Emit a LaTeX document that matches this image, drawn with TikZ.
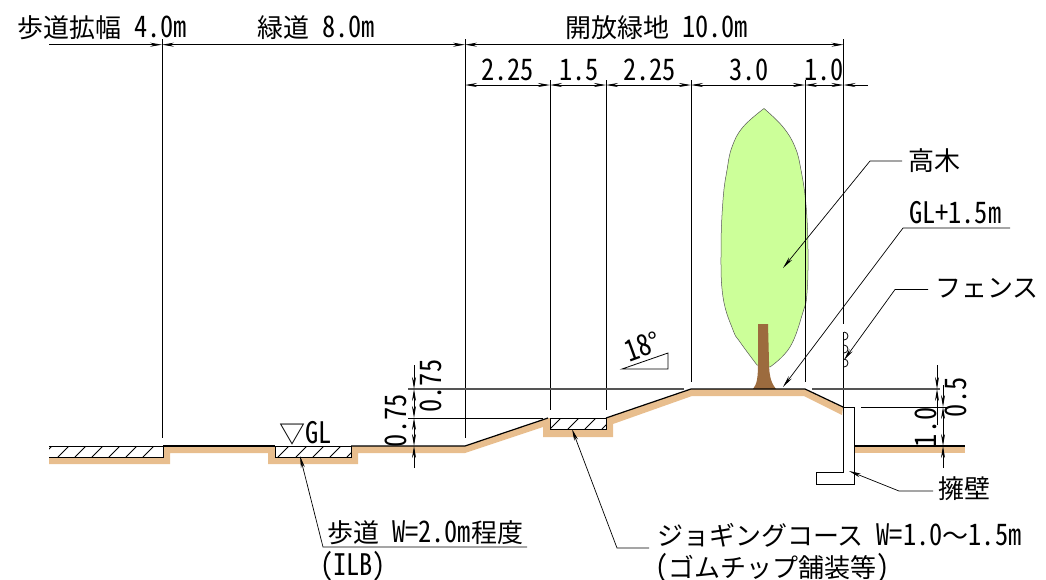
\documentclass[tikz,border=0pt]{standalone}
\usepackage{fontspec}
\usetikzlibrary{arrows.meta}
\newfontfamily\jpf{Noto Sans CJK JP}
\newfontfamily\hwf[RawFeature=+hwid,FakeStretch=0.89,Scale=1.14]{Noto Sans CJK JP}
\newcommand{\hs}[1]{{\hwf #1}}
\newcommand{\gapw}{\hspace{13pt}}
\definecolor{soil}{HTML}{E8BE8E}
\definecolor{leaf}{HTML}{CCFF99}
\definecolor{bark}{HTML}{9C6B3E}
\definecolor{dimgrey}{HTML}{555555}
\tikzset{
  lab/.style={inner sep=0pt,outer sep=0pt,font=\jpf\fontsize{26}{26}\selectfont,anchor=base west},
  vlab/.style={inner sep=0pt,outer sep=0pt,font=\hwf\fontsize{26}{26}\selectfont,anchor=base west,rotate=90},
  tick/.style={black,line width=.95pt},
  dimline/.style={black,line width=.8pt},
  both/.style={{Stealth[length=12pt,width=4pt]}-{Stealth[length=12pt,width=4pt]}},
  tipend/.style={-{Stealth[length=12pt,width=4pt]}},
  leader/.style={black,line width=.7pt},
  surf/.style={black,line width=1.2pt},
  levelline/.style={dimgrey,line width=1.1pt},
  wall/.style={black,line width=1pt},
  hatchline/.style={black,line width=.9pt},
}
\begin{document}
\begin{tikzpicture}[x=1pt,y=-1pt]
\useasboundingbox (0,0) rectangle (1046,579);
% soil
\fill[soil] (49,457)--(163,457)--(163,446)--(275,446)--(275,457)--(351,457)--(351,446)--(465,446)--(548,418)--(550,418)--(550,429)--(606,429)--(606,418)--(691,389)--(805,389)--(843,407)--(842,415)--(804,396)--(692,396)--(613,424)--(613,437)--(543,437)--(543,427)--(465,453)--(358,453)--(358,464)--(268,464)--(268,453)--(170,453)--(170,464)--(49,464)--cycle;
\fill[soil] (854,446) rectangle (965,453);
% tree
\draw[fill=leaf,draw=dimgrey,line width=.5pt] plot[smooth,tension=.7] coordinates {(764,108.5)(783,127)(795,147)(801,170)(806,205)(808,250)(807,293)(803,312)(790,347)(770,367)} -- plot[smooth,tension=.7] coordinates {(757,365)(740,342)(733,330)(723,297)(721,250)(723,200)(727,170)(732,147)(743,127)(764,108.5)} -- cycle;
\fill[bark] (758,324)--(768,324)--(769,362) .. controls (769,378) and (772,384) .. (776,389) -- (753,389) .. controls (757,384) and (758,378) .. (758,362) -- cycle;
% surface lines
\draw[surf] (163,446)--(275,446);
\draw[surf] (351,446)--(465,446)--(548,418);
\draw[surf] (606,418)--(691,389)--(805,389)--(843,407);
\draw[surf] (854,446)--(965,446);
% paved sections
\begin{scope}
\clip (49,446) rectangle (163,457);
\foreach \x in {41,58,75,92,109,126,143} \draw[hatchline] (\x,457)--(\x+11,446);
\end{scope}
\draw[wall] (49,446)--(163,446)--(163,457)--(49,457);
\begin{scope}
\clip (275,446) rectangle (351,457);
\foreach \x in {278,296,313,330,347} \draw[hatchline] (\x,457)--(\x+11,446);
\end{scope}
\draw[wall] (275,446) rectangle (351,457);
\begin{scope}
\clip (550,418) rectangle (606,429);
\foreach \x in {550,568,585,602} \draw[hatchline] (\x,429)--(\x+11,418);
\end{scope}
\draw[wall] (550,418) rectangle (606,429);
% retaining wall
\draw[wall] (843.5,407)--(854,407)--(854,484)--(816,484)--(816,472)--(843.5,472)--cycle;
% fence
\draw[wall] (843.5,332)--(843.5,407);
\foreach \y in {336,349,363} \draw[line width=.8pt] (844,\y-4) arc[start angle=-90,end angle=90,radius=4];
% dimension coordinates
\coordinate (a0) at (49,44.7);
\coordinate (a1) at (162,44.7);
\coordinate (a2) at (465,44.7);
\coordinate (a3) at (843.5,44.7);
\coordinate (b1) at (550,85);
\coordinate (b0) at (465,85);
\coordinate (b2) at (606,85);
\coordinate (b3) at (691,85);
\coordinate (b4) at (805,85);
\coordinate (b5) at (843.5,85);
\coordinate (b6) at (868,85);
% extension lines
\draw[tick] (162,39)--(162,438);
\draw[tick] (465,39)--(465,438);
\draw[tick] (843.5,39)--(843.5,324);
\draw[tick] (550,80)--(550,410);
\draw[tick] (606,80)--(606,410);
\draw[tick] (691,80)--(691,382);
\draw[tick] (805,80)--(805,382);
% dimension lines
\draw[dimline,tipend] (a0)--(a1);
\draw[dimline,both] (a1)--(a2);
\draw[dimline,both] (a2)--(a3);
\draw[dimline,both] (b0)--(b1);
\draw[dimline,both] (b1)--(b2);
\draw[dimline,both] (b2)--(b3);
\draw[dimline,both] (b3)--(b4);
\draw[dimline,both] (b4)--(b5);
\draw[dimline,tipend] (b6)--(b5);
% level lines
\draw[levelline] (408,389)--(684,389);
\draw[levelline] (812,389)--(940,389);
\draw[dimline,line width=1pt] (408,418)--(543,418);
\draw[dimline,line width=1pt] (861,407)--(950,407);
% left vertical dims
\coordinate (l0) at (414,365);
\coordinate (l1) at (414,389);
\coordinate (l2) at (414,418);
\coordinate (l3) at (414,446);
\coordinate (l4) at (414,468);
\draw[dimline,tipend] (l0)--(l1);
\draw[dimline,both] (l1)--(l2);
\draw[dimline,both] (l2)--(l3);
\draw[dimline,tipend] (l4)--(l3);
% right vertical dims
\coordinate (r0) at (937,365);
\coordinate (r1) at (937,389);
\coordinate (r2) at (937,425);
\draw[dimline,tipend] (r0)--(r1);
\draw[dimline,tipend] (r2)--(r1);
\coordinate (s0) at (943,385);
\coordinate (s1) at (943,407);
\coordinate (s2) at (943,446);
\coordinate (s3) at (943,468);
\draw[dimline,tipend] (s0)--(s1);
\draw[dimline,both] (s1)--(s2);
\draw[dimline,tipend] (s3)--(s2);
% slope triangle
\draw[black,line width=.8pt] (622,369)--(668,369)--(668,353)--cycle;
% texts
\node[lab] (t1) at (17,37.5) {歩道拡幅\gapw\hs{4.0m}};
\node[lab] (t2) at (257,37.5) {緑道\gapw\hs{8.0m}};
\node[lab] (t3) at (565,37.5) {開放緑地\gapw\hs{10.0m}};
\node[lab] (d1) at (481,80) {\hs{2.25}};
\node[lab] (d2) at (559,80) {\hs{1.5}};
\node[lab] (d3) at (623,80) {\hs{2.25}};
\node[lab] (d4) at (729,80) {\hs{3.0}};
\node[lab] (d5) at (804,80) {\hs{1.0}};
\node[vlab] (v1) at (441,412.5) {0.75};
\node[vlab] (v2) at (406,447) {0.75};
\node[vlab] (v3) at (936,447) {1.0};
\node[vlab] (v4) at (966,417) {0.5};
\node[lab,rotate=20] (ang) at (629,362) {\hs{18}°};
\node[lab] (gl) at (279,443) {▽\hs{GL}};
\node[lab] (tall) at (908,170) {高木};
\node[lab] (glp) at (909,223) {\hs{GL+1.5m}};
\node[lab] (fen) at (935,297) {フェンス};
\node[lab] (yo) at (938,498) {擁壁};
\node[lab] (wk) at (327,542) {歩道\gapw\hs{W=2.0m}程度};
\node[lab] (ilb) at (320,575) {\hs{(ILB)}};
\node[lab] (jog) at (657,545) {ジョギングコース\gapw\hs{W=1.0}～\hs{1.5m}};
\node[lab] (gom) at (655,577) {\hs{(}ゴムチップ舗装等\hs{)}};
% leaders
\coordinate (p1a) at (902,161); \coordinate (p1b) at (870,161); \coordinate (p1c) at (783,268);
\draw[leader,tipend] (p1a)--(p1b)--(p1c);
\coordinate (p2a) at (1010,228); \coordinate (p2b) at (903,228); \coordinate (p2c) at (783,387);
\draw[leader,tipend] (p2a)--(p2b)--(p2c);
\coordinate (p3a) at (928,289.5); \coordinate (p3b) at (895,289.5); \coordinate (p3c) at (844,360);
\draw[leader,tipend] (p3a)--(p3b)--(p3c);
\coordinate (p4a) at (933,491); \coordinate (p4b) at (899,491); \coordinate (p4c) at (849,471);
\draw[leader,tipend] (p4a)--(p4b)--(p4c);
\coordinate (p5a) at (527,547); \coordinate (p5b) at (323,547); \coordinate (p5c) at (300,456);
\draw[leader,tipend] (p5a)--(p5b)--(p5c);
\coordinate (p6a) at (649,548); \coordinate (p6b) at (617,548); \coordinate (p6c) at (572,429);
\draw[leader,tipend] (p6a)--(p6b)--(p6c);
\end{tikzpicture}
\end{document}
